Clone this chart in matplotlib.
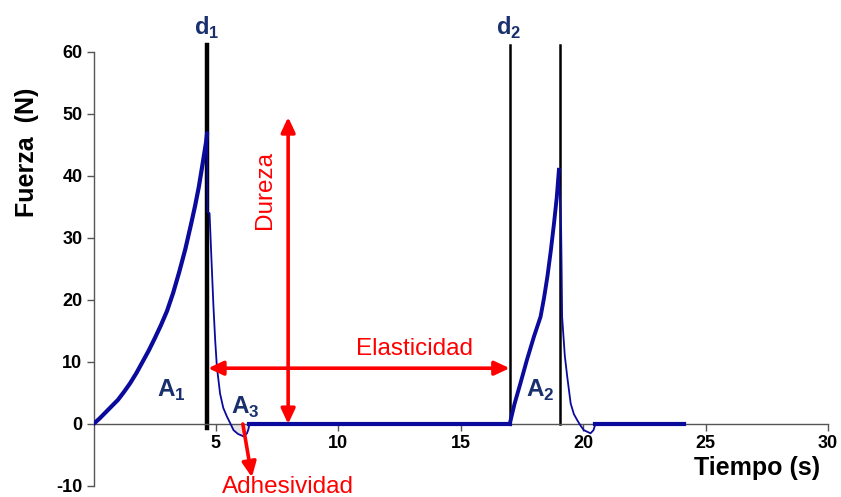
import matplotlib
matplotlib.use("Agg")
import matplotlib.pyplot as plt

plt.rcParams['font.family'] = ['Liberation Sans', 'DejaVu Sans']
plt.rcParams['mathtext.fontset'] = 'custom'
plt.rcParams['mathtext.rm'] = 'Liberation Sans'
plt.rcParams['mathtext.bf'] = 'Liberation Sans:bold'
plt.rcParams['axes.unicode_minus'] = False

# --- Texture profile curve (time in s, force in N) ---
# first compression: loading
t1_up = [0.0, 0.25, 0.5, 0.75, 1.0, 1.25, 1.5, 1.75, 2.0, 2.25, 2.5, 2.75, 3.0,
         3.25, 3.5, 3.75, 4.0, 4.15, 4.3, 4.45, 4.6, 4.64]
f1_up = [0.0, 0.9, 1.9, 2.9, 3.9, 5.2, 6.6, 8.2, 10.0, 11.8, 13.8, 15.9, 18.2,
         21.1, 24.5, 28.2, 32.5, 35.2, 38.2, 41.8, 45.5, 46.9]
# first compression: unloading and adhesive dip
t1_down = [4.64, 4.66, 4.74, 4.83, 4.90, 4.97, 5.04, 5.17, 5.30, 5.45, 5.60, 5.72, 5.90, 6.13, 6.27, 6.33, 6.37]
f1_down = [46.9, 34.2, 34.0, 25.4, 18.9, 13.5, 9.2, 4.9, 2.6, 1.2, 0.0, -1.0, -1.6, -2.0, -1.5, -0.8, 0.0]
# rest between compressions
t_rest = [6.37, 17.0]
f_rest = [0.0, 0.0]
# second compression: loading
t2_up = [17.0, 17.2, 17.44, 17.7, 17.99, 18.26, 18.4, 18.54, 18.68, 18.81, 18.92, 19.01]
f2_up = [0.0, 3.3, 6.6, 10.3, 14.1, 17.3, 20.3, 23.8, 28.0, 32.4, 36.5, 41.0]
# second compression: unloading and dip
t2_down = [19.01, 19.10, 19.12, 19.14, 19.25, 19.35, 19.49, 19.62, 19.76, 19.90, 20.03, 20.30, 20.42, 20.50]
f2_down = [41.0, 31.3, 25.0, 17.3, 11.0, 7.6, 3.3, 1.6, 0.6, -0.3, -1.0, -1.5, -1.0, 0.0]
# end of record
t_end = [20.50, 24.1]
f_end = [0.0, 0.0]

# marker lines (s) and their top (N)
x_d1 = 4.64
x_d2 = 17.0
x_peak2 = 19.05
line_top = 61.1

# annotation values
dureza_x = 7.95
dureza_top = 49.5
elastic_y = 9.0
adh_start = (6.1, 0.0)
adh_end = (6.47, -8.6)

x_ticks = [5, 10, 15, 20, 25, 30]
y_ticks = [-10, 0, 10, 20, 30, 40, 50, 60]

curve_col = '#0a0a9c'
label_col = '#1a2f6e'
red = '#ff0000'
axis_col = '#555555'

fig = plt.figure(figsize=(8.41, 4.97), dpi=100)
ax = fig.add_axes([93.5 / 841, 1 - 486 / 497, (828 - 93.5) / 841, (486 - 52) / 497])
ax.set_xlim(0, 30)
ax.set_ylim(-10, 60)

# spines
for s in ['top', 'right']:
    ax.spines[s].set_visible(False)
ax.spines['bottom'].set_position(('data', 0))
ax.spines['left'].set_color(axis_col)
ax.spines['bottom'].set_color(axis_col)
ax.spines['left'].set_linewidth(1.0)
ax.spines['bottom'].set_linewidth(1.0)

ax.set_xticks(x_ticks)
ax.set_yticks(y_ticks)
ax.tick_params(axis='both', direction='out', length=5, width=1.0, color=axis_col,
               labelsize=13, pad=3)
for lab in ax.get_xticklabels() + ax.get_yticklabels():
    lab.set_fontweight('bold')

# adhesive area shading
ax.fill_between(t1_down, f1_down, 0, where=[f <= 0 for f in f1_down],
                color='#e6e6e6', zorder=1, lw=0)

# marker lines
ax.plot([x_d1, x_d1], [-0.6, line_top], color='black', lw=3.2, clip_on=False, zorder=2)
ax.plot([x_d2, x_d2], [0, line_top], color='black', lw=1.8, clip_on=False, zorder=2)
ax.plot([x_peak2, x_peak2], [0, line_top], color='black', lw=1.8, clip_on=False, zorder=2)

# curve
ax.plot(t1_up, f1_up, color=curve_col, lw=3.0, zorder=3, solid_capstyle='round')
ax.plot(t1_down, f1_down, color=curve_col, lw=1.3, zorder=3)
ax.plot(t_rest, f_rest, color=curve_col, lw=3.0, zorder=3)
ax.plot(t2_up, f2_up, color=curve_col, lw=2.8, zorder=3)
ax.plot(t2_down, f2_down, color=curve_col, lw=1.3, zorder=3)
ax.plot(t_end, f_end, color=curve_col, lw=3.0, zorder=3)

# arrows
arrow_kw = dict(color=red, lw=2.6, mutation_scale=15, shrinkA=0, shrinkB=0)
ax.annotate('', xy=(dureza_x, dureza_top), xytext=(dureza_x, 0),
            arrowprops=dict(arrowstyle='<|-|>,head_length=0.6,head_width=0.28', **arrow_kw), zorder=4)
ax.annotate('', xy=(x_d1 + 0.04, elastic_y), xytext=(x_d2, elastic_y),
            arrowprops=dict(arrowstyle='<|-|>,head_length=0.6,head_width=0.28', **arrow_kw), zorder=4)
ax.annotate('', xy=adh_end, xytext=adh_start,
            arrowprops=dict(arrowstyle='-|>,head_length=0.6,head_width=0.28', **arrow_kw),
            zorder=4, annotation_clip=False)

# red labels
ax.text(7.01, 37.7, 'Dureza', color=red, fontsize=17.5, rotation=90,
        ha='center', va='center')
ax.text(13.1, 11.1, 'Elasticidad', color=red, fontsize=17.5, ha='center', va='baseline')
ax.text(7.95, -11.2, 'Adhesividad', color=red, fontsize=17.5, ha='center', va='baseline',
        clip_on=False)

# area / distance labels
ax.text(2.6, 4.4, r'$\mathbf{A}_{\mathbf{1}}$', color=label_col, fontsize=17.5, va='baseline')
ax.text(5.63, 1.7, r'$\mathbf{A}_{\mathbf{3}}$', color=label_col, fontsize=17.5, va='baseline')
ax.text(17.66, 4.4, r'$\mathbf{A}_{\mathbf{2}}$', color=label_col, fontsize=17.5, va='baseline')
ax.text(4.62, 62.7, r'$\mathbf{d}_{\mathbf{1}}$', color=label_col, fontsize=17, ha='center',
        va='baseline', clip_on=False)
ax.text(16.95, 62.7, r'$\mathbf{d}_{\mathbf{2}}$', color=label_col, fontsize=17, ha='center',
        va='baseline', clip_on=False)

# axis titles
ax.text(27.1, -7.1, 'Tiempo (s)', fontsize=18, fontweight='bold', ha='center', va='center',
        clip_on=False)
ax.text(-2.72, 43.9, 'Fuerza  (N)', fontsize=18, fontweight='bold', rotation=90,
        ha='center', va='center', clip_on=False)

fig.savefig('out.png', dpi=100)
